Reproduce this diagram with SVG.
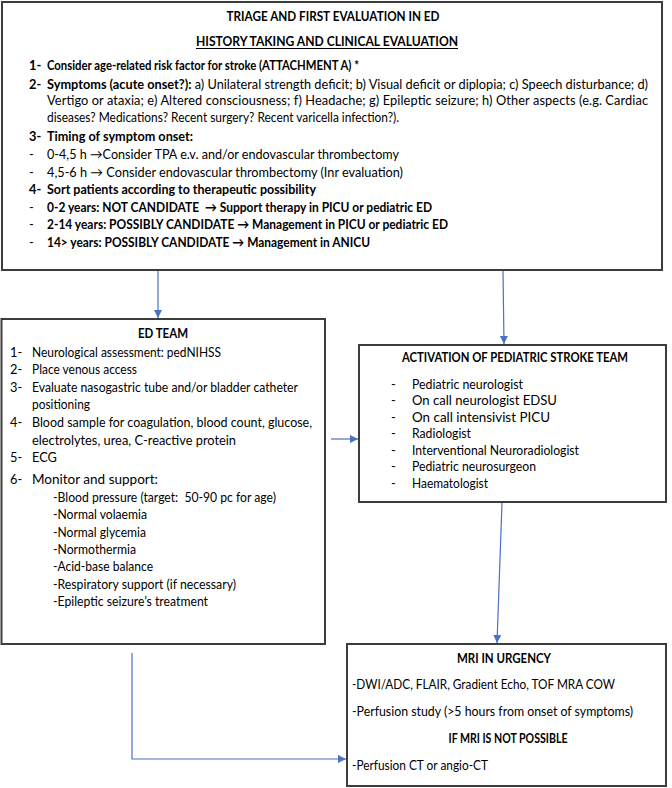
<svg xmlns="http://www.w3.org/2000/svg" width="672" height="788" viewBox="0 0 672 788">
<defs>
<style>
.box{fill:#fff;stroke:#3c3c3c;stroke-width:2}
.t{font-family:Lato,"Liberation Sans",sans-serif;font-size:12.8px;fill:#000}
.b{font-weight:bold}
.c{text-anchor:middle}
.ln{fill:none;stroke:#4a72c0;stroke-width:1.2}
</style>
<marker id="ah" markerUnits="userSpaceOnUse" markerWidth="9" markerHeight="9" refX="8" refY="4" orient="auto">
<path d="M0,0 L8,4 L0,8 z" fill="#4a72c0"/>
</marker>
</defs>
<rect width="672" height="788" fill="#fff"/>

<g id="triage">
<rect class="box" x="2" y="2" width="660" height="268"/>
<text class="t b c" x="333" y="21" textLength="213" lengthAdjust="spacingAndGlyphs">TRIAGE AND FIRST EVALUATION IN ED</text>
<text class="t b c" x="327" y="45.5" textLength="262" lengthAdjust="spacingAndGlyphs">HISTORY TAKING AND CLINICAL EVALUATION</text>
<line x1="196" y1="48.5" x2="458" y2="48.5" stroke="#000" stroke-width="1"/>
<text class="t b" x="29" y="69.5">1-</text>
<text class="t b" x="47" y="69.5" textLength="312" lengthAdjust="spacingAndGlyphs">Consider age-related risk factor for stroke (ATTACHMENT A) *</text>
<text class="t b" x="29" y="88.5">2-</text>
<text class="t" x="47" y="88.5" textLength="601" lengthAdjust="spacingAndGlyphs"><tspan class="b">Symptoms (acute onset?):</tspan> a) Unilateral strength deficit; b) Visual deficit or diplopia; c) Speech disturbance; d)</text>
<text class="t" x="47" y="105" textLength="601" lengthAdjust="spacing">Vertigo or ataxia; e) Altered consciousness; f) Headache; g) Epileptic seizure; h) Other aspects (e.g. Cardiac</text>
<text class="t" x="47" y="121.5" textLength="352" lengthAdjust="spacingAndGlyphs">diseases? Medications? Recent surgery? Recent varicella infection?).</text>
<text class="t b" x="29" y="140.5">3-</text>
<text class="t b" x="47" y="140.5" textLength="146" lengthAdjust="spacingAndGlyphs">Timing of symptom onset:</text>
<text class="t" x="29" y="158.5">-</text>
<text class="t" x="47" y="158.5" textLength="352" lengthAdjust="spacingAndGlyphs">0-4,5 h →Consider TPA e.v. and/or endovascular thrombectomy</text>
<text class="t" x="29" y="176.5">-</text>
<text class="t" x="47" y="176.5" textLength="356" lengthAdjust="spacingAndGlyphs">4,5-6 h → Consider endovascular thrombectomy (Inr evaluation)</text>
<text class="t b" x="29" y="193.5">4-</text>
<text class="t b" x="47" y="193.5" textLength="269" lengthAdjust="spacingAndGlyphs">Sort patients according to therapeutic possibility</text>
<text class="t" x="29" y="211.5">-</text>
<text class="t b" x="47" y="211.5" textLength="385" lengthAdjust="spacingAndGlyphs" xml:space="preserve">0-2 years: NOT CANDIDATE  → Support therapy in PICU or pediatric ED</text>
<text class="t" x="29" y="228.5">-</text>
<text class="t b" x="47" y="228.5" textLength="401" lengthAdjust="spacingAndGlyphs">2-14 years: POSSIBLY CANDIDATE → Management in PICU or pediatric ED</text>
<text class="t" x="29" y="246.5">-</text>
<text class="t b" x="47" y="246.5" textLength="323" lengthAdjust="spacingAndGlyphs">14&gt; years: POSSIBLY CANDIDATE → Management in ANICU</text>
</g>

<g id="ed-team">
<rect class="box" x="1.5" y="319" width="323.5" height="325"/>
<text class="t b c" x="163" y="337.5" textLength="50" lengthAdjust="spacingAndGlyphs">ED TEAM</text>
<text class="t" x="10" y="356.5">1-</text><text class="t" x="32" y="356.5" textLength="189" lengthAdjust="spacingAndGlyphs">Neurological assessment: pedNIHSS</text>
<text class="t" x="10" y="374">2-</text><text class="t" x="32" y="374" textLength="105" lengthAdjust="spacingAndGlyphs">Place venous access</text>
<text class="t" x="10" y="391.5">3-</text><text class="t" x="32" y="391.5" textLength="266" lengthAdjust="spacingAndGlyphs">Evaluate nasogastric tube and/or bladder catheter</text>
<text class="t" x="32" y="409" textLength="58" lengthAdjust="spacingAndGlyphs">positioning</text>
<text class="t" x="10" y="427">4-</text><text class="t" x="32" y="427" textLength="280" lengthAdjust="spacingAndGlyphs">Blood sample for coagulation, blood count, glucose,</text>
<text class="t" x="32" y="444.5" textLength="204" lengthAdjust="spacingAndGlyphs">electrolytes, urea, C-reactive protein</text>
<text class="t" x="10" y="462">5-</text><text class="t" x="32" y="462">ECG</text>
<text class="t" x="10" y="484">6-</text><text class="t" x="32" y="484" textLength="126" lengthAdjust="spacingAndGlyphs">Monitor and support:</text>
<text class="t" x="53" y="501.5" textLength="223" lengthAdjust="spacingAndGlyphs" xml:space="preserve">-Blood pressure (target:  50-90 pc for age)</text>
<text class="t" x="53" y="519" textLength="94" lengthAdjust="spacingAndGlyphs">-Normal volaemia</text>
<text class="t" x="53" y="536.5" textLength="93" lengthAdjust="spacingAndGlyphs">-Normal glycemia</text>
<text class="t" x="53" y="553.5" textLength="83" lengthAdjust="spacingAndGlyphs">-Normothermia</text>
<text class="t" x="53" y="571" textLength="100" lengthAdjust="spacingAndGlyphs">-Acid-base balance</text>
<text class="t" x="53" y="588.5" textLength="183" lengthAdjust="spacingAndGlyphs">-Respiratory support (if necessary)</text>
<text class="t" x="53" y="605.5" textLength="155" lengthAdjust="spacingAndGlyphs">-Epileptic seizure’s treatment</text>
</g>

<g id="stroke-team">
<rect class="box" x="359" y="345" width="307" height="157"/>
<text class="t b c" x="515" y="362" textLength="226" lengthAdjust="spacingAndGlyphs">ACTIVATION OF PEDIATRIC STROKE TEAM</text>
<text class="t" x="391" y="388.5">-</text><text class="t" x="412" y="388.5" textLength="111" lengthAdjust="spacingAndGlyphs">Pediatric neurologist</text>
<text class="t" x="391" y="405">-</text><text class="t" x="412" y="405" textLength="145" lengthAdjust="spacingAndGlyphs">On call neurologist EDSU</text>
<text class="t" x="391" y="421.5">-</text><text class="t" x="412" y="421.5" textLength="138" lengthAdjust="spacingAndGlyphs">On call intensivist PICU</text>
<text class="t" x="391" y="438">-</text><text class="t" x="412" y="438" textLength="59" lengthAdjust="spacingAndGlyphs">Radiologist</text>
<text class="t" x="391" y="454.5">-</text><text class="t" x="412" y="454.5" textLength="167" lengthAdjust="spacingAndGlyphs">Interventional Neuroradiologist</text>
<text class="t" x="391" y="471">-</text><text class="t" x="412" y="471" textLength="124" lengthAdjust="spacingAndGlyphs">Pediatric neurosurgeon</text>
<text class="t" x="391" y="487.5">-</text><text class="t" x="412" y="487.5" textLength="76" lengthAdjust="spacingAndGlyphs">Haematologist</text>
</g>

<g id="mri">
<rect class="box" x="347" y="644" width="319" height="142"/>
<text class="t b c" x="504" y="662.5" textLength="94" lengthAdjust="spacingAndGlyphs">MRI IN URGENCY</text>
<text class="t" x="352" y="689" textLength="263" lengthAdjust="spacingAndGlyphs">-DWI/ADC, FLAIR, Gradient Echo, TOF MRA COW</text>
<text class="t" x="352" y="716" textLength="281" lengthAdjust="spacingAndGlyphs">-Perfusion study (&gt;5 hours from onset of symptoms)</text>
<text class="t b c" x="508" y="742.5" textLength="119" lengthAdjust="spacingAndGlyphs">IF MRI IS NOT POSSIBLE</text>
<text class="t" x="352" y="769.5" textLength="136" lengthAdjust="spacingAndGlyphs">-Perfusion CT or angio-CT</text>
</g>

<g id="connectors">
<line class="ln" x1="158" y1="271" x2="158" y2="318" marker-end="url(#ah)"/>
<line class="ln" x1="503" y1="271" x2="504" y2="344" marker-end="url(#ah)"/>
<line class="ln" x1="331" y1="439" x2="358" y2="439" marker-end="url(#ah)"/>
<line class="ln" x1="502" y1="503" x2="497" y2="643" marker-end="url(#ah)"/>
<polyline class="ln" points="132,653 132,759 346,759" marker-end="url(#ah)"/>
</g>
</svg>
